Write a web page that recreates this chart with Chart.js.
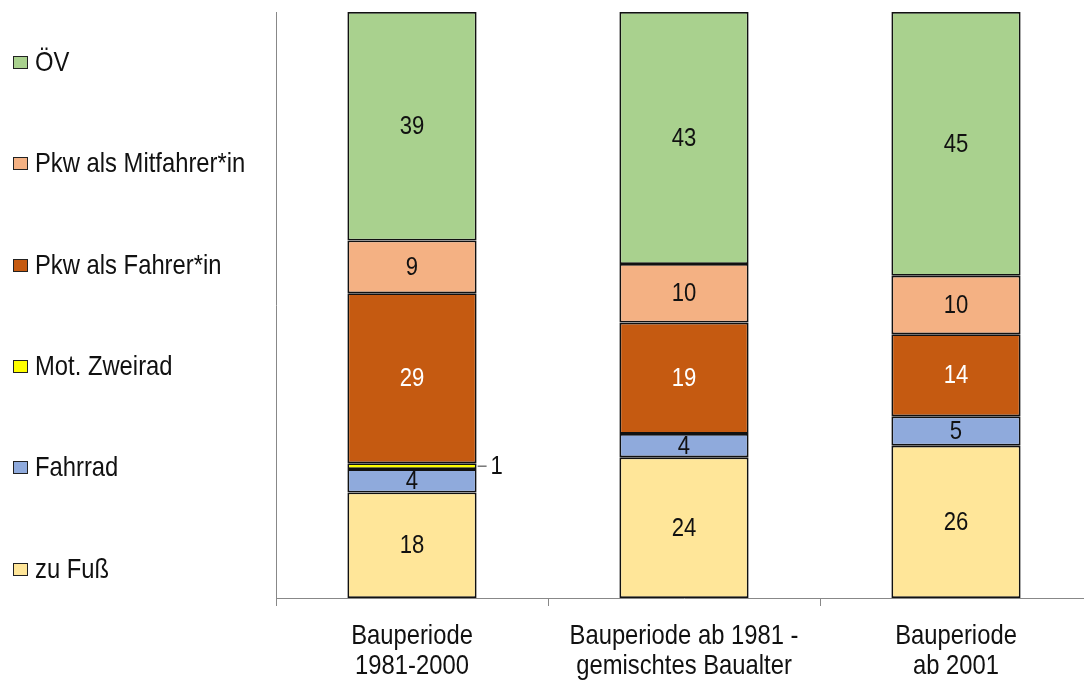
<!DOCTYPE html>
<html lang="de">
<head>
<meta charset="utf-8">
<script src="https://cdn.jsdelivr.net/npm/chart.js@4"></script>
<style>
    html, body { margin: 0; padding: 0; background: #fff; overflow: hidden; }
    #wrap { position: relative; width: 1084px; height: 680px; overflow: hidden; }
    #chart-box { position: absolute; left: 0; top: 0; width: 1100px; height: 680px; }
    .legend { position: absolute; left: 0; top: 0; font-family: "Liberation Sans", Arial, sans-serif; font-size: 28px; color: #111; }
    .legend-item { position: absolute; left: 13px; white-space: nowrap; height: 30px; }
    .legend-item span.box { position: absolute; left: 0; top: 9px; width: 13px; height: 11px; border: 1px solid #222; }
    .legend-item span.txt { position: absolute; left: 22px; top: 0; line-height: 30px; transform: scaleX(0.85); transform-origin: left center; }
</style>
</head>
<body>
<div id="wrap">
    <div id="chart-box"><canvas id="chart-modal" width="1100" height="680"></canvas></div>
    <div class="legend" id="legend"></div>
</div>
<script>
// ==================== DATOS ====================
const categorias = [
    ['Bauperiode', '1981-2000'],
    ['Bauperiode ab 1981 -', 'gemischtes Baualter'],
    ['Bauperiode', 'ab 2001']
];
const zuFuss       = [18, 24, 26];
const fahrrad      = [4, 4, 5];
const motZweirad   = [1, 0, 0];
const pkwFahrer    = [29, 19, 14];
const pkwMitfahrer = [9, 10, 10];
const oev          = [39, 43, 45];

const FUENTE = '"Liberation Sans", Arial, sans-serif';
const ESTRECHO = 0.85; // simula Arial Narrow

const series = [
    { label: 'zu Fuß', data: zuFuss, color: '#FFE699', texto: '#111' },
    { label: 'Fahrrad', data: fahrrad, color: '#8FAADC', texto: '#111' },
    { label: 'Mot. Zweirad', data: motZweirad, color: '#FFFF00', texto: '#111', fuera: true },
    { label: 'Pkw als Fahrer*in', data: pkwFahrer, color: '#C55A11', texto: '#fff' },
    { label: 'Pkw als Mitfahrer*in', data: pkwMitfahrer, color: '#F4B183', texto: '#111' },
    { label: 'ÖV', data: oev, color: '#A9D18E', texto: '#111' }
];

// ==================== LEYENDA ====================
const legendY = [62, 163, 265, 366, 467, 569];
const legend = document.getElementById('legend');
[...series].reverse().forEach((s, i) => {
    const item = document.createElement('div');
    item.className = 'legend-item';
    item.style.top = (legendY[i] - 15) + 'px';
    item.innerHTML = `<span class="box" style="background:${s.color}"></span><span class="txt">${s.label}</span>`;
    legend.appendChild(item);
});

// texto estrecho en el canvas
function textoEstrecho(ctx, txt, x, y, align) {
    ctx.save();
    ctx.translate(x, y);
    ctx.scale(ESTRECHO, 1);
    ctx.textAlign = align;
    ctx.fillText(txt, 0, 0);
    ctx.restore();
}

// ==================== ETIQUETAS ====================
const etiquetasPlugin = {
    id: 'etiquetas',
    afterDatasetsDraw(chart) {
        const ctx = chart.ctx;
        ctx.save();
        ctx.font = '26px ' + FUENTE;
        ctx.textBaseline = 'middle';
        chart.data.datasets.forEach((ds, di) => {
            const meta = chart.getDatasetMeta(di);
            meta.data.forEach((bar, i) => {
                const v = ds.data[i];
                if (!v) return;
                const c = bar.getCenterPoint();
                if (series[di].fuera) {
                    const right = bar.x + bar.width / 2;
                    ctx.strokeStyle = '#333';
                    ctx.lineWidth = 1;
                    ctx.beginPath();
                    ctx.moveTo(right + 1, c.y);
                    ctx.lineTo(right + 10, c.y);
                    ctx.stroke();
                    ctx.fillStyle = '#111';
                    textoEstrecho(ctx, String(v), right + 14, c.y + 1, 'left');
                } else {
                    ctx.fillStyle = series[di].texto;
                    textoEstrecho(ctx, String(v), c.x, c.y + 1, 'center');
                }
            });
        });

        // etiquetas del eje x
        const xScale = chart.scales.x;
        ctx.font = '28px ' + FUENTE;
        ctx.fillStyle = '#111';
        categorias.forEach((lineas, i) => {
            const x = xScale.getPixelForValue(i);
            lineas.forEach((l, j) => {
                textoEstrecho(ctx, l, x, xScale.top + 38 + j * 30, 'center');
            });
        });
        ctx.restore();
    }
};

// ==================== GRÁFICO ====================
const ctx = document.getElementById('chart-modal').getContext('2d');
window.modalChart = new Chart(ctx, {
    type: 'bar',
    data: {
        labels: categorias.map(c => c.join(' ')),
        datasets: series.map(s => ({
            label: s.label,
            data: s.data,
            backgroundColor: s.color,
            borderColor: '#111',
            borderWidth: 1.8,
            borderSkipped: false,
            barPercentage: 0.95,
            categoryPercentage: 0.5
        }))
    },
    options: {
        responsive: false,
        animation: false,
        layout: { padding: { left: 268, top: 12, right: 8, bottom: 74 } },
        plugins: {
            legend: { display: false },
            tooltip: { enabled: false }
        },
        scales: {
            x: {
                stacked: true,
                grid: { display: true, drawOnChartArea: false, drawTicks: true, tickLength: 8, color: '#888', offset: true },
                border: { display: true, color: '#888', width: 1 },
                ticks: { display: false }
            },
            y: {
                stacked: true,
                min: 0,
                max: 100,
                grid: { display: false },
                border: { display: true, color: '#888', width: 1 },
                ticks: { display: false }
            }
        }
    },
    plugins: [etiquetasPlugin]
});
</script>
</body>
</html>
